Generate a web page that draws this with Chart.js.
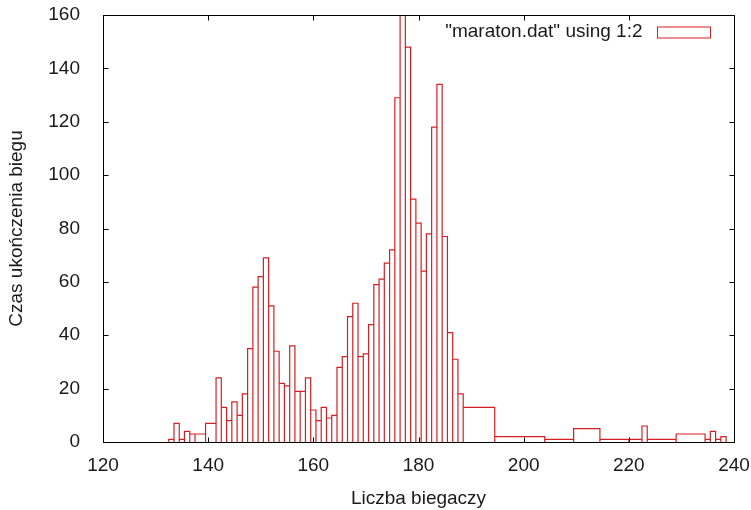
<!DOCTYPE html>
<html><head><meta charset="utf-8">
<script src="https://cdn.jsdelivr.net/npm/chart.js@4/dist/chart.umd.min.js"></script>
<style>html,body{margin:0;padding:0;background:#fff}#wrap{width:751px;height:510px}</style>
</head><body><div id="wrap"><canvas id="c" width="751" height="510"></canvas></div>
<script>
// data (x value, box height)
const finishTimes = [133,134,135,136,137,138,141,142,143,144,145,146,147,148,149,150,151,152,153,154,155,156,157,158,159,160,161,162,163,164,165,166,167,168,169,170,171,172,173,174,175,176,177,178,179,180,181,182,183,184,185,186,187,188,189,200,208,211,218,222,223,224,234,235,236,237,238];
const runnerCounts = [1,7,1,4,3,3,7,24,13,8,15,10,18,35,58,62,69,51,34,22,21,36,19,19,24,12,8,13,9,10,28,32,47,52,32,33,44,59,61,67,72,129,163,148,91,82,64,78,118,134,77,41,31,18,13,2,1,5,1,1,6,1,3,1,4,1,2];
const xTickValues = [120,140,160,180,200,220,240];
const yTickValues = [0,20,40,60,80,100,120,140,160];
const seriesLabel = '"maraton.dat" using 1:2';
const xTitle = 'Liczba biegaczy';
const yTitle = 'Czas ukończenia biegu';

const RED = 'rgb(212,32,36)';
const TEXT = '#1a1a1a';
const FONT = '"Liberation Sans", Arial, sans-serif';
const FS = 19;

// gnuplot "with boxes": each box extends halfway to its neighbours
function boxOutline(xs, ys) {
  const pts = [];
  for (let i = 0; i < xs.length; i++) {
    const prev = i > 0 ? xs[i-1] : xs[i] - (xs[i+1] - xs[i]);
    const next = i < xs.length - 1 ? xs[i+1] : xs[i] + (xs[i] - xs[i-1]);
    const l = (prev + xs[i]) / 2, r = (xs[i] + next) / 2;
    pts.push({x:l,y:0},{x:l,y:ys[i]},{x:r,y:ys[i]},{x:r,y:0});
  }
  return pts;
}

const framePlugin = {
  id: 'frame',
  afterDraw(chart) {
    const {ctx, chartArea: a, scales: {x, y}} = chart;
    ctx.save();
    ctx.strokeStyle = '#000';
    ctx.lineWidth = 1;
    const L = Math.round(a.left) + 0.5, R = Math.round(a.right) + 0.5;
    const T = Math.round(a.top) + 0.5, B = Math.round(a.bottom) + 0.5;
    ctx.strokeRect(L, T, R - L, B - T);
    const tl = 5;
    ctx.beginPath();
    xTickValues.forEach(v => {
      const px = Math.round(x.getPixelForValue(v)) + 0.5;
      ctx.moveTo(px, B); ctx.lineTo(px, B - tl);
      ctx.moveTo(px, T); ctx.lineTo(px, T + tl);
    });
    yTickValues.forEach(v => {
      const py = Math.round(y.getPixelForValue(v)) + 0.5;
      ctx.moveTo(L, py); ctx.lineTo(L + tl, py);
      ctx.moveTo(R, py); ctx.lineTo(R - tl, py);
    });
    ctx.stroke();
    // legend
    ctx.font = FS + 'px ' + FONT;
    ctx.fillStyle = TEXT;
    ctx.textAlign = 'right';
    ctx.textBaseline = 'middle';
    const ly = 32;
    ctx.fillText(chart.data.datasets[0].label, R - 92, ly);
    ctx.strokeStyle = RED;
    ctx.strokeRect(R - 77, ly - 5, 53, 11);
    ctx.restore();
  }
};

new Chart(document.getElementById('c'), {
  type: 'line',
  data: {
    datasets: [{
      label: seriesLabel,
      data: boxOutline(finishTimes, runnerCounts),
      borderColor: RED,
      borderWidth: 1.2,
      pointRadius: 0,
      tension: 0,
      fill: false
    }]
  },
  options: {
    responsive: false,
    animation: false,
    devicePixelRatio: 1,
    layout: {padding: {top: 15, right: 17, left: 0, bottom: 0}},
    plugins: {legend: {display: false}, tooltip: {enabled: false}},
    scales: {
      x: {
        type: 'linear', min: 120, max: 240,
        afterBuildTicks: s => { s.ticks = xTickValues.map(v => ({value: v})); },
        afterFit: s => { s.height = 68; s.paddingLeft = 0; s.paddingRight = 0; },
        grid: {display: false}, border: {display: false},
        ticks: {color: TEXT, font: {family: FONT, size: FS}, padding: 4, maxRotation: 0},
        title: {display: true, text: xTitle, color: TEXT, font: {family: FONT, size: FS}, padding: {top: 4, bottom: 0}}
      },
      y: {
        type: 'linear', min: 0, max: 160,
        afterBuildTicks: s => { s.ticks = yTickValues.map(v => ({value: v})); },
        afterFit: s => { s.width = 103; s.paddingTop = 0; s.paddingBottom = 0; },
        grid: {display: false}, border: {display: false},
        ticks: {color: TEXT, font: {family: FONT, size: FS}, padding: 15},
        title: {display: true, text: yTitle, color: TEXT, font: {family: FONT, size: FS}, padding: {top: 5, bottom: 4}}
      }
    }
  },
  plugins: [framePlugin]
});
</script>
</body></html>
